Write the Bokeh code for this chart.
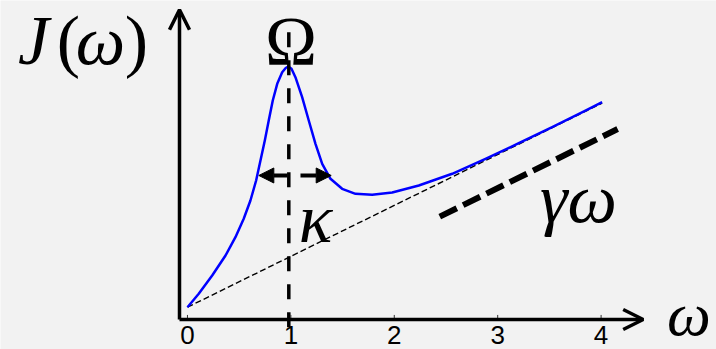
from bokeh.plotting import figure
from bokeh.models import Range1d, Arrow, OpenHead, NormalHead, Label, ColumnDataSource
from bokeh.core.properties import value
from bokeh.embed import file_html
from bokeh.resources import INLINE

# ---------------- data ----------------
omega = [0.0, 0.109, 0.239, 0.368, 0.464, 0.544, 0.609, 0.664, 0.706, 0.748,
         0.786, 0.825, 0.868, 0.916, 0.950, 0.975, 1.006, 1.044, 1.109, 1.173,
         1.238, 1.303, 1.383, 1.496, 1.625, 1.786, 1.980, 2.237, 2.560, 2.882,
         3.204, 3.527, 3.849, 4.010]
J = [0.0, 0.263, 0.623, 1.016, 1.375, 1.737, 2.096, 2.489, 2.882, 3.275,
     3.668, 4.061, 4.389, 4.617, 4.700, 4.730, 4.684, 4.519, 4.126, 3.668,
     3.210, 2.817, 2.523, 2.326, 2.228, 2.208, 2.253, 2.391, 2.621, 2.916,
     3.222, 3.536, 3.864, 4.027]

linear_omega = [0.0, 4.01]          # gamma * omega asymptote
linear_J = [0.0, 4.01]

guide_omega = [2.44, 4.16]          # thick dashed "gamma omega" marker
guide_J = [1.78, 3.50]

Omega_peak = 0.98                   # resonance position
kappa_left = 0.690                  # half-width arrow tips
kappa_right = 1.390
kappa_level = 2.588

x_ticks = [0, 1, 2, 3, 4]
x_tick_labels = ["0", "1", "2", "3", "4"]

# axis extents
axis_x0 = -0.077
axis_y0 = -0.242
axis_x_tip = 4.407
axis_y_tip = 5.843

# ---------------- figure ----------------
p = figure(width=716, height=349, output_backend="svg", toolbar_location=None,
           x_axis_type=None, y_axis_type=None, min_border=0,
           x_range=Range1d(-1.808, 5.116), y_range=Range1d(-0.831, 6.026),
           outline_line_color=None,
           background_fill_color="#f2f2f2", border_fill_color="#f2f2f2")

# thin dashed linear asymptote
p.line(linear_omega, linear_J, line_color="black", line_width=1.4, line_dash="6 3")

# spectral density
p.line(omega, J, line_color="#0000ff", line_width=2.5, line_join="round")

# thick dashed gamma*omega marker
p.line(guide_omega, guide_J, line_color="black", line_width=6, line_dash="19 7")

# vertical dashed line at Omega (drawn from top so the dash pattern starts there)
p.line([Omega_peak, Omega_peak], [5.40, -0.56], line_color="black",
       line_width=3.5, line_dash="15 13")

# axes (arrows)
p.add_layout(Arrow(end=OpenHead(size=20, line_width=3.5, line_color="black"),
                   x_start=axis_x0, y_start=axis_y0, x_end=axis_x_tip, y_end=axis_y0,
                   line_width=3.5, line_color="black"))
p.add_layout(Arrow(end=OpenHead(size=20, line_width=3.5, line_color="black"),
                   x_start=axis_x0, y_start=axis_y0, x_end=axis_x0, y_end=axis_y_tip,
                   line_width=3.5, line_color="black"))

# tick marks and labels
tsrc = ColumnDataSource(dict(x=x_ticks, y0=[axis_y0] * len(x_ticks),
                             y1=[axis_y0 + 0.09] * len(x_ticks),
                             yl=[-0.37] * len(x_ticks), t=x_tick_labels))
p.segment(x0="x", y0="y0", x1="x", y1="y1", source=tsrc, line_color="#333333", line_width=1)
p.text(x="x", y="yl", text="t", source=tsrc, text_align="center", text_baseline="top",
       text_font=value("Liberation Sans"), text_font_size="26px", text_color="black")

# kappa arrows
p.add_layout(Arrow(end=NormalHead(size=15, fill_color="black", line_color="black", line_width=1),
                   x_start=0.967, y_start=kappa_level, x_end=kappa_left, y_end=kappa_level,
                   line_width=4, line_color="black"))
p.add_layout(Arrow(end=NormalHead(size=15, fill_color="black", line_color="black", line_width=1),
                   x_start=1.093, y_start=kappa_level, x_end=kappa_right, y_end=kappa_level,
                   line_width=4, line_color="black"))

# math labels (y given as baseline, lifted to compensate text box placement)
LIFT = 0.43

def lab(x, y, text, size, style="italic", align="center"):
    p.add_layout(Label(x=x, y=y + LIFT, text=text, text_align=align,
                       text_baseline="alphabetic",
                       text_font="Liberation Serif", text_font_size=size,
                       text_font_style=style, text_color="black"))

lab(-1.489, 4.807, "J", "70px")
lab(-1.151, 4.807, "(", "70px", "normal")
lab(-0.841, 4.807, "ω", "70px")
lab(-0.493, 4.807, ")", "70px", "normal")
lab(1.001, 4.788, "Ω", "70px", "normal")
lab(1.238, 1.310, "κ", "70px")
lab(3.781, 1.703, "γω", "70px")
lab(5.060, -0.560, "ω", "62px", align="right")

open("out.html", "w").write(file_html(p, INLINE))
